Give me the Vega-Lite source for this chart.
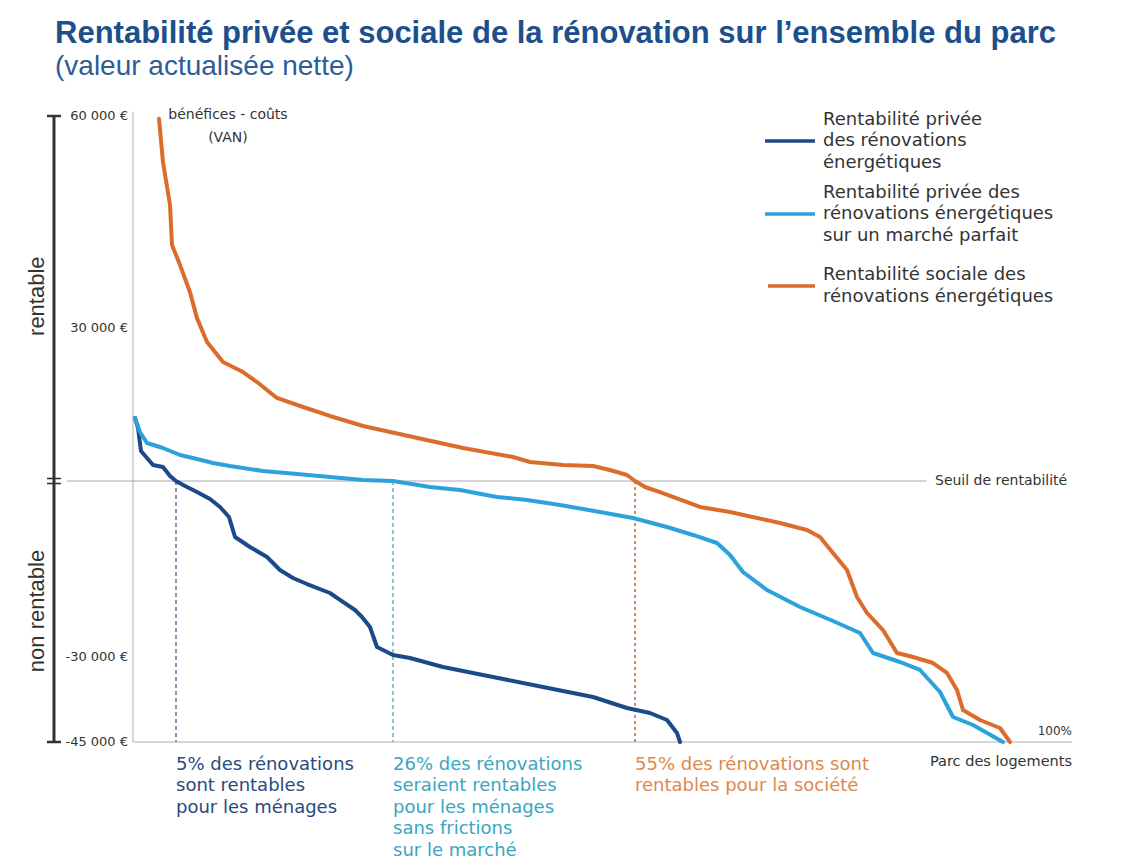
{
  "$schema": "https://vega.github.io/schema/vega-lite/v6.json",
  "width": 1122,
  "height": 774,
  "autosize": "none",
  "padding": {"left": 0, "top": 90, "right": 0, "bottom": 0},
  "background": "#ffffff",
  "config": {
    "view": {"stroke": null},
    "locale": {"number": {"decimal": ",", "thousands": " ", "grouping": [3], "currency": ["", " €"], "minus": "-"}}
  },
  "title": {
    "text": "Rentabilité privée et sociale de la rénovation sur l’ensemble du parc",
    "subtitle": "(valeur actualisée nette)",
    "anchor": "start",
    "frame": "group",
    "dx": 55,
    "offset": 8,
    "font": "'Liberation Sans Narrow', 'Liberation Sans', sans-serif",
    "fontSize": 31,
    "fontWeight": "bold",
    "color": "#1c4f8c",
    "subtitleFont": "'Liberation Sans Narrow', 'Liberation Sans', sans-serif",
    "subtitleFontSize": 28,
    "subtitleColor": "#2d5d97",
    "subtitlePadding": 3
  },
  "datasets": {
    "courbes": [
      {"serie": "privée", "part": 0, "van": 12350},
      {"serie": "privée", "part": 0.37, "van": 10390},
      {"serie": "privée", "part": 0.73, "van": 5880},
      {"serie": "privée", "part": 2.2, "van": 3140},
      {"serie": "privée", "part": 3.41, "van": 2750},
      {"serie": "privée", "part": 4.27, "van": 980},
      {"serie": "privée", "part": 5, "van": 0},
      {"serie": "privée", "part": 5.87, "van": -850},
      {"serie": "privée", "part": 7.03, "van": -1880},
      {"serie": "privée", "part": 8.29, "van": -3070},
      {"serie": "privée", "part": 9.26, "van": -4430},
      {"serie": "privée", "part": 10.13, "van": -6140},
      {"serie": "privée", "part": 10.71, "van": -9550},
      {"serie": "privée", "part": 12.16, "van": -11250},
      {"serie": "privée", "part": 13.81, "van": -12950},
      {"serie": "privée", "part": 15.06, "van": -15170},
      {"serie": "privée", "part": 16.32, "van": -16530},
      {"serie": "privée", "part": 17.68, "van": -17560},
      {"serie": "privée", "part": 19.9, "van": -19090},
      {"serie": "privée", "part": 20.87, "van": -20280},
      {"serie": "privée", "part": 22.32, "van": -21990},
      {"serie": "privée", "part": 23.0, "van": -23180},
      {"serie": "privée", "part": 23.77, "van": -24890},
      {"serie": "privée", "part": 24.45, "van": -28300},
      {"serie": "privée", "part": 26, "van": -29660},
      {"serie": "privée", "part": 28.04, "van": -30180},
      {"serie": "privée", "part": 31.99, "van": -31760},
      {"serie": "privée", "part": 37.98, "van": -33530},
      {"serie": "privée", "part": 43.97, "van": -35290},
      {"serie": "privée", "part": 49.97, "van": -37060},
      {"serie": "privée", "part": 54.04, "van": -39000},
      {"serie": "privée", "part": 56.8, "van": -39880},
      {"serie": "privée", "part": 58.84, "van": -41120},
      {"serie": "privée", "part": 60.04, "van": -43410},
      {"serie": "privée", "part": 60.4, "van": -45000},

      {"serie": "marché parfait", "part": 0, "van": 12350},
      {"serie": "marché parfait", "part": 0.61, "van": 9610},
      {"serie": "marché parfait", "part": 1.46, "van": 7450},
      {"serie": "marché parfait", "part": 3.41, "van": 6470},
      {"serie": "marché parfait", "part": 5.39, "van": 5100},
      {"serie": "marché parfait", "part": 7.03, "van": 4310},
      {"serie": "marché parfait", "part": 8.58, "van": 3530},
      {"serie": "marché parfait", "part": 10.23, "van": 2940},
      {"serie": "marché parfait", "part": 13.42, "van": 1960},
      {"serie": "marché parfait", "part": 16.71, "van": 1370},
      {"serie": "marché parfait", "part": 19.9, "van": 780},
      {"serie": "marché parfait", "part": 23.1, "van": 200},
      {"serie": "marché parfait", "part": 26, "van": 0},
      {"serie": "marché parfait", "part": 30.43, "van": -1020},
      {"serie": "marché parfait", "part": 34.03, "van": -1530},
      {"serie": "marché parfait", "part": 38.46, "van": -2730},
      {"serie": "marché parfait", "part": 42.06, "van": -3240},
      {"serie": "marché parfait", "part": 46.01, "van": -4090},
      {"serie": "marché parfait", "part": 50.8, "van": -5280},
      {"serie": "marché parfait", "part": 54.76, "van": -6310},
      {"serie": "marché parfait", "part": 58.84, "van": -7840},
      {"serie": "marché parfait", "part": 61.96, "van": -9200},
      {"serie": "marché parfait", "part": 64.84, "van": -10570},
      {"serie": "marché parfait", "part": 66.4, "van": -12610},
      {"serie": "marché parfait", "part": 67.96, "van": -15510},
      {"serie": "marché parfait", "part": 70.84, "van": -18580},
      {"serie": "marché parfait", "part": 74.8, "van": -21480},
      {"serie": "marché parfait", "part": 78.76, "van": -23860},
      {"serie": "marché parfait", "part": 82, "van": -25910},
      {"serie": "marché parfait", "part": 83.56, "van": -29320},
      {"serie": "marché parfait", "part": 86.8, "van": -30880},
      {"serie": "marché parfait", "part": 89.2, "van": -32290},
      {"serie": "marché parfait", "part": 91.6, "van": -36180},
      {"serie": "marché parfait", "part": 93.16, "van": -40590},
      {"serie": "marché parfait", "part": 95.56, "van": -42000},
      {"serie": "marché parfait", "part": 99.16, "van": -45000},

      {"serie": "sociale", "part": 2.93, "van": 59600},
      {"serie": "sociale", "part": 3.41, "van": 53490},
      {"serie": "sociale", "part": 4.27, "van": 47400},
      {"serie": "sociale", "part": 4.51, "van": 41750},
      {"serie": "sociale", "part": 5.39, "van": 38900},
      {"serie": "sociale", "part": 6.35, "van": 35100},
      {"serie": "sociale", "part": 7.03, "van": 31400},
      {"serie": "sociale", "part": 8.0, "van": 27250},
      {"serie": "sociale", "part": 9.55, "van": 23330},
      {"serie": "sociale", "part": 11.48, "van": 21370},
      {"serie": "sociale", "part": 12.84, "van": 19410},
      {"serie": "sociale", "part": 14.77, "van": 16280},
      {"serie": "sociale", "part": 17.29, "van": 14510},
      {"serie": "sociale", "part": 19.9, "van": 12750},
      {"serie": "sociale", "part": 23.1, "van": 10780},
      {"serie": "sociale", "part": 28.4, "van": 8630},
      {"serie": "sociale", "part": 34.39, "van": 6470},
      {"serie": "sociale", "part": 40.38, "van": 4710},
      {"serie": "sociale", "part": 42.42, "van": 3730},
      {"serie": "sociale", "part": 46.37, "van": 3140},
      {"serie": "sociale", "part": 49.97, "van": 2940},
      {"serie": "sociale", "part": 52.0, "van": 2160},
      {"serie": "sociale", "part": 54.04, "van": 1180},
      {"serie": "sociale", "part": 55, "van": 0},
      {"serie": "sociale", "part": 56.2, "van": -1020},
      {"serie": "sociale", "part": 58.0, "van": -1880},
      {"serie": "sociale", "part": 62.8, "van": -4430},
      {"serie": "sociale", "part": 66.4, "van": -5280},
      {"serie": "sociale", "part": 72.4, "van": -7160},
      {"serie": "sociale", "part": 75.64, "van": -8350},
      {"serie": "sociale", "part": 77.2, "van": -9550},
      {"serie": "sociale", "part": 78.76, "van": -12270},
      {"serie": "sociale", "part": 80.44, "van": -15170},
      {"serie": "sociale", "part": 81.64, "van": -19770},
      {"serie": "sociale", "part": 82.84, "van": -22500},
      {"serie": "sociale", "part": 84.76, "van": -25400},
      {"serie": "sociale", "part": 86.44, "van": -29320},
      {"serie": "sociale", "part": 88.36, "van": -30000},
      {"serie": "sociale", "part": 90.76, "van": -31060},
      {"serie": "sociale", "part": 92.44, "van": -32820},
      {"serie": "sociale", "part": 93.64, "van": -35820},
      {"serie": "sociale", "part": 94.36, "van": -39350},
      {"serie": "sociale", "part": 96.4, "van": -41120},
      {"serie": "sociale", "part": 98.8, "van": -42530},
      {"serie": "sociale", "part": 100, "van": -45000}
    ],
    "graduations": [
      {"van": 60000},
      {"van": 30000},
      {"van": -30000},
      {"van": -45000}
    ]
  },
  "layer": [
    {
      "data": {"values": [{}]},
      "mark": {"type": "rule", "color": "#b0b0b0", "strokeWidth": 1},
      "encoding": {"x": {"datum": -0.25, "axis": null}, "y": {"datum": -45000, "axis": null}, "y2": {"datum": 60600}}
    },
    {
      "data": {"values": [{}]},
      "mark": {"type": "rule", "color": "#b0b0b0", "strokeWidth": 1},
      "encoding": {"x": {"datum": -0.25, "axis": null}, "x2": {"datum": 107.44}, "y": {"datum": -45000, "axis": null}}
    },
    {
      "data": {"values": [{}]},
      "mark": {"type": "rule", "color": "#a8a8a8", "strokeWidth": 1},
      "encoding": {"x": {"datum": -8.3, "axis": null}, "x2": {"datum": 90}, "y": {"datum": 0, "axis": null}}
    },
    {
      "data": {"values": [{}]},
      "mark": {"type": "rule", "color": "#333333", "strokeWidth": 3},
      "encoding": {"x": {"datum": -9.88, "axis": null}, "y": {"datum": -45000, "axis": null}, "y2": {"datum": 60000}}
    },
    {
      "data": {"values": [{"van": 60000}, {"van": -45000}]},
      "mark": {"type": "rule", "color": "#333333", "strokeWidth": 2.5},
      "encoding": {"x": {"datum": -10.73, "axis": null}, "x2": {"datum": -9.03}, "y": {"field": "van", "type": "quantitative", "axis": null}}
    },
    {
      "data": {"values": [{}]},
      "mark": {"type": "rule", "color": "#333333", "strokeWidth": 1.6, "yOffset": -2.5},
      "encoding": {"x": {"datum": -10.73, "axis": null}, "x2": {"datum": -9.03}, "y": {"datum": 0, "axis": null}}
    },
    {
      "data": {"values": [{}]},
      "mark": {"type": "rule", "color": "#333333", "strokeWidth": 1.6, "yOffset": 2.5},
      "encoding": {"x": {"datum": -10.73, "axis": null}, "x2": {"datum": -9.03}, "y": {"datum": 0, "axis": null}}
    },
    {
      "data": {"values": [{}]},
      "mark": {"type": "rule", "color": "#5d7190", "strokeWidth": 1.5, "strokeDash": [4, 3]},
      "encoding": {"x": {"datum": 5, "axis": null}, "y": {"datum": 0, "axis": null}, "y2": {"datum": -45000}}
    },
    {
      "data": {"values": [{}]},
      "mark": {"type": "rule", "color": "#62b2c4", "strokeWidth": 1.5, "strokeDash": [4, 3]},
      "encoding": {"x": {"datum": 26, "axis": null}, "y": {"datum": 0, "axis": null}, "y2": {"datum": -45000}}
    },
    {
      "data": {"values": [{}]},
      "mark": {"type": "rule", "color": "#d98a55", "strokeWidth": 2, "strokeDash": [3, 3]},
      "encoding": {"x": {"datum": 55, "axis": null}, "y": {"datum": 0, "axis": null}, "y2": {"datum": -45000}}
    },
    {
      "data": {"name": "courbes"},
      "mark": {"type": "line", "strokeWidth": 4, "strokeJoin": "round", "strokeCap": "round"},
      "encoding": {
        "x": {
          "field": "part", "type": "quantitative",
          "scale": {"domain": [0, 5, 26, 55, 100], "range": [135, 176, 393, 635, 1010], "zero": false, "nice": false},
          "axis": null
        },
        "y": {
          "field": "van", "type": "quantitative",
          "scale": {"domain": [-45000, -30000, 0, 30000, 60000], "range": [652, 567, 391, 238, 26], "zero": false, "nice": false},
          "axis": null
        },
        "color": {
          "field": "serie", "type": "nominal",
          "scale": {"domain": ["privée", "marché parfait", "sociale"], "range": ["#1b4a8a", "#2ba3da", "#db6c2c"]},
          "legend": null
        }
      }
    },
    {
      "data": {"name": "graduations"},
      "mark": {"type": "text", "font": "DejaVu Sans", "fontSize": 13, "color": "#333333", "align": "right", "baseline": "middle"},
      "encoding": {
        "x": {"datum": -0.85, "axis": null},
        "y": {"field": "van", "type": "quantitative", "axis": null},
        "text": {"field": "van", "type": "quantitative", "format": "$,d"}
      }
    },
    {
      "data": {"values": [{}]},
      "mark": {"type": "text", "text": "bénéfices - coûts", "font": "DejaVu Sans", "fontSize": 14, "color": "#333333", "align": "center", "baseline": "middle"},
      "encoding": {"x": {"datum": 10.03, "axis": null}, "y": {"datum": 60140, "axis": null}}
    },
    {
      "data": {"values": [{}]},
      "mark": {"type": "text", "text": "(VAN)", "font": "DejaVu Sans", "fontSize": 14, "color": "#333333", "align": "center", "baseline": "middle"},
      "encoding": {"x": {"datum": 10.03, "axis": null}, "y": {"datum": 56890, "axis": null}}
    },
    {
      "data": {"values": [{}]},
      "mark": {"type": "text", "text": "rentable", "angle": 270, "font": "Liberation Sans", "fontSize": 22, "color": "#333333", "align": "center", "baseline": "middle"},
      "encoding": {"x": {"datum": -11.95, "axis": null}, "y": {"datum": 34500, "axis": null}}
    },
    {
      "data": {"values": [{}]},
      "mark": {"type": "text", "text": "non rentable", "angle": 270, "font": "Liberation Sans", "fontSize": 22, "color": "#333333", "align": "center", "baseline": "middle"},
      "encoding": {"x": {"datum": -11.95, "axis": null}, "y": {"datum": -22160, "axis": null}}
    },
    {
      "data": {"values": [{}]},
      "mark": {"type": "text", "text": "Seuil de rentabilité", "font": "DejaVu Sans", "fontSize": 14, "color": "#333333", "align": "left", "baseline": "middle"},
      "encoding": {"x": {"datum": 91, "axis": null}, "y": {"datum": 0, "axis": null}}
    },
    {
      "data": {"values": [{}]},
      "mark": {"type": "text", "text": "100%", "font": "DejaVu Sans", "fontSize": 12, "color": "#333333", "align": "right", "baseline": "middle"},
      "encoding": {"x": {"datum": 107.44, "axis": null}, "y": {"datum": -43060, "axis": null}}
    },
    {
      "data": {"values": [{}]},
      "mark": {"type": "text", "text": "Parc des logements", "font": "DejaVu Sans", "fontSize": 14.5, "color": "#333333", "align": "right", "baseline": "middle"},
      "encoding": {"x": {"datum": 107.44, "axis": null}, "y": {"datum": -48530, "axis": null}}
    },
    {
      "data": {"values": [{}]},
      "mark": {"type": "rule", "color": "#1b4a8a", "strokeWidth": 3.5},
      "encoding": {"x": {"datum": 70.6, "axis": null}, "x2": {"datum": 76.6}, "y": {"datum": 56460, "axis": null}}
    },
    {
      "data": {"values": [{}]},
      "mark": {"type": "rule", "color": "#2ba3da", "strokeWidth": 3.5},
      "encoding": {"x": {"datum": 70.6, "axis": null}, "x2": {"datum": 76.6}, "y": {"datum": 46130, "axis": null}}
    },
    {
      "data": {"values": [{}]},
      "mark": {"type": "rule", "color": "#db6c2c", "strokeWidth": 3.5},
      "encoding": {"x": {"datum": 70.96, "axis": null}, "x2": {"datum": 76.6}, "y": {"datum": 35940, "axis": null}}
    },
    {
      "data": {"values": [{}]},
      "mark": {"type": "text", "text": ["Rentabilité privée", "des rénovations", "énergétiques"], "lineHeight": 21.5, "dy": -21.5, "font": "DejaVu Sans", "fontSize": 18, "color": "#333333", "align": "left", "baseline": "middle"},
      "encoding": {"x": {"datum": 77.56, "axis": null}, "y": {"datum": 56460, "axis": null}}
    },
    {
      "data": {"values": [{}]},
      "mark": {"type": "text", "text": ["Rentabilité privée des", "rénovations énergétiques", "sur un marché parfait"], "lineHeight": 21.5, "dy": -21.5, "font": "DejaVu Sans", "fontSize": 18, "color": "#333333", "align": "left", "baseline": "middle"},
      "encoding": {"x": {"datum": 77.56, "axis": null}, "y": {"datum": 46130, "axis": null}}
    },
    {
      "data": {"values": [{}]},
      "mark": {"type": "text", "text": ["Rentabilité sociale des", "rénovations énergétiques"], "lineHeight": 21.5, "dy": -11, "font": "DejaVu Sans", "fontSize": 18, "color": "#333333", "align": "left", "baseline": "middle"},
      "encoding": {"x": {"datum": 77.56, "axis": null}, "y": {"datum": 35940, "axis": null}}
    },
    {
      "data": {"values": [{}]},
      "mark": {"type": "text", "text": ["5% des rénovations", "sont rentables", "pour les ménages"], "lineHeight": 21.5, "font": "DejaVu Sans", "fontSize": 18, "color": "#284a7e", "align": "left", "baseline": "top"},
      "encoding": {"x": {"datum": 5, "axis": null}, "y": {"datum": -47470, "axis": null}}
    },
    {
      "data": {"values": [{}]},
      "mark": {"type": "text", "text": ["26% des rénovations", "seraient rentables", "pour les ménages", "sans frictions", "sur le marché"], "lineHeight": 21.5, "font": "DejaVu Sans", "fontSize": 18, "color": "#38a6c2", "align": "left", "baseline": "top"},
      "encoding": {"x": {"datum": 26, "axis": null}, "y": {"datum": -47470, "axis": null}}
    },
    {
      "data": {"values": [{}]},
      "mark": {"type": "text", "text": ["55% des rénovations sont", "rentables pour la société"], "lineHeight": 21.5, "font": "DejaVu Sans", "fontSize": 18, "color": "#e0884c", "align": "left", "baseline": "top"},
      "encoding": {"x": {"datum": 55, "axis": null}, "y": {"datum": -47470, "axis": null}}
    }
  ]
}
